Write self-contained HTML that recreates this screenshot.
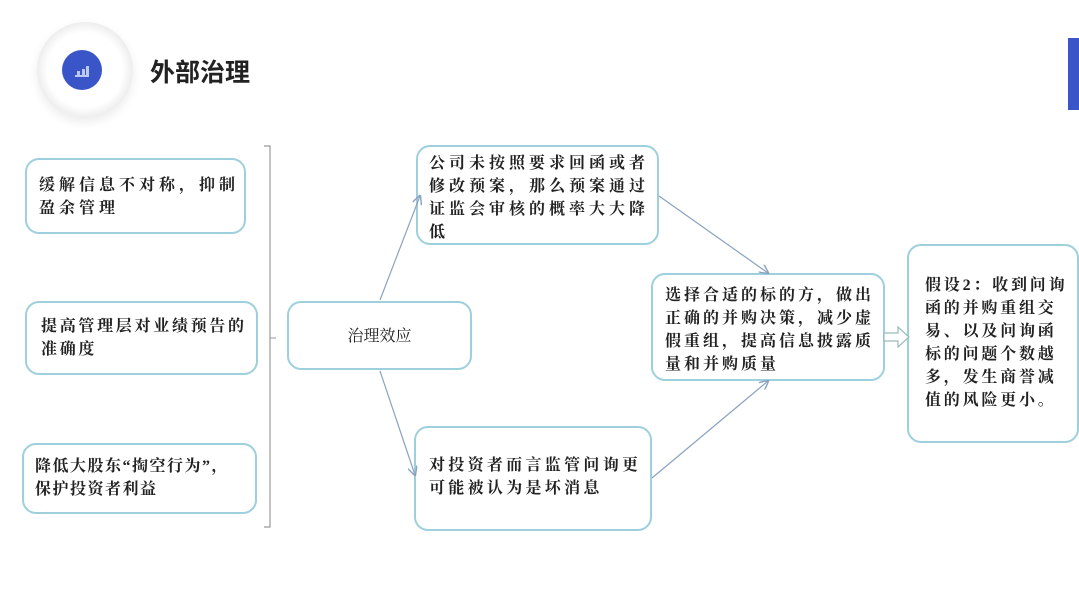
<!DOCTYPE html>
<html><head><meta charset="utf-8"><style>
body{margin:0;width:1079px;height:604px;background:#fff;position:relative;overflow:hidden;font-family:"Liberation Serif","Noto Serif CJK SC",serif;}
.b{position:absolute;border:2px solid #9dd0dc;border-radius:14px;box-sizing:border-box;font-size:16px;font-weight:bold;color:#222;line-height:23px;padding:10px 0 0 10px;background:#fff;white-space:nowrap;}
</style></head><body>
<div style="position:absolute;left:37px;top:22px;width:96px;height:96px;border-radius:50%;background:radial-gradient(circle,#fff 55%,#eee 70%,#f8f8f8 100%);box-shadow:0 4px 10px rgba(0,0,0,.08)"></div>
<div style="position:absolute;left:62px;top:50px;width:40px;height:40px;border-radius:50%;background:#3a55c8;"></div>
<div style="position:absolute;left:75px;top:66px;width:14px;height:9px;border-bottom:2px solid #bcc8f5;"><div style="position:absolute;left:2px;bottom:0;width:3px;height:4px;background:#bcc8f5"></div><div style="position:absolute;left:7px;bottom:0;width:3px;height:6px;background:#bcc8f5"></div><div style="position:absolute;left:11px;bottom:0;width:3px;height:9px;background:#bcc8f5"></div></div>
<div style="position:absolute;left:150px;top:53px;font-family:'Liberation Sans','Noto Sans CJK SC',sans-serif;font-weight:bold;font-size:25px;color:#222">外部治理</div>
<div style="position:absolute;left:1068px;top:38px;width:11px;height:72px;background:#3a55c8"></div>

<div class="b" style="left:25px;top:158px;width:221px;height:76px;padding:14px 0 0 12px;letter-spacing:4px">缓解信息不对称，抑制<br>盈余管理</div>
<div class="b" style="left:25px;top:301px;width:233px;height:74px;padding:12px 0 0 14px;letter-spacing:2.7px">提高管理层对业绩预告的<br>准确度</div>
<div class="b" style="left:22px;top:443px;width:235px;height:71px;padding:10px 0 0 11px;letter-spacing:1.5px">降低大股东“掏空行为”，<br>保护投资者利益</div>
<div class="b" style="left:287px;top:301px;width:185px;height:69px;text-align:center;padding:22px 0 0 0;font-weight:normal">治理效应</div>
<div class="b" style="left:416px;top:145px;width:243px;height:100px;padding:5px 0 0 11px;letter-spacing:4px">公司未按照要求回函或者<br>修改预案，那么预案通过<br>证监会审核的概率大大降<br>低</div>
<div class="b" style="left:414px;top:426px;width:238px;height:105px;padding:26px 0 0 13px;letter-spacing:3.3px">对投资者而言监管问询更<br>可能被认为是坏消息</div>
<div class="b" style="left:651px;top:273px;width:234px;height:108px;padding:9px 0 0 12px;letter-spacing:3px">选择合适的标的方，做出<br>正确的并购决策，减少虚<br>假重组，提高信息披露质<br>量和并购质量</div>
<div class="b" style="left:907px;top:244px;width:172px;height:199px;padding:28px 0 0 16px;letter-spacing:2.8px">假设2：收到问询<br>函的并购重组交<br>易、以及问询函<br>标的问题个数越<br>多，发生商誉减<br>值的风险更小。</div>

<svg width="1079" height="604" style="position:absolute;left:0;top:0;pointer-events:none">
<defs><marker id="a" markerWidth="8" markerHeight="8" refX="7" refY="4" orient="auto"><path d="M0,0L8,4L0,8" fill="none" stroke="#8aa3c0" stroke-width="1.2"/></marker></defs>
<path d="M264,146H270V527H264" fill="none" stroke="#999" stroke-width="1.2"/>
<line x1="270" y1="338" x2="276" y2="338" stroke="#999"/>
<g stroke="#8aa3c0" stroke-width="1.2" fill="none" marker-end="url(#a)">
<line x1="380" y1="300" x2="420" y2="196"/>
<line x1="380" y1="371" x2="415" y2="475"/>
<line x1="659" y1="196" x2="768" y2="273"/>
<line x1="652" y1="478" x2="768" y2="381"/>
</g>
<path d="M884,333H898V327L909,337L898,347V341H884Z" fill="#fff" stroke="#9bb" stroke-width="1.2"/>
</svg>
</body></html>
